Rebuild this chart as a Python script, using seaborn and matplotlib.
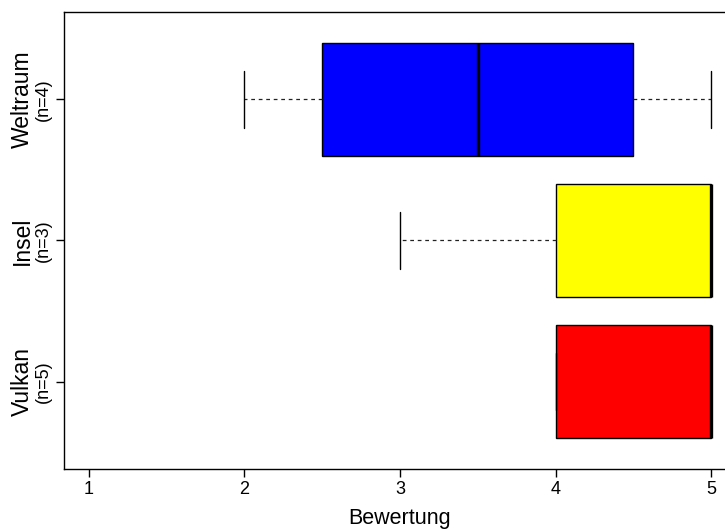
import numpy as np
import pandas as pd
import matplotlib
matplotlib.use("Agg")
import matplotlib.pyplot as plt
import matplotlib.transforms as mtransforms
import seaborn as sns

# ---- data ----
categories = ["Weltraum", "Insel", "Vulkan"]
ratings_weltraum = [2, 3, 4, 5]
ratings_insel = [3, 5, 5]
ratings_vulkan = [4, 4, 5, 5, 5]
box_colors = ["blue", "yellow", "red"]
x_ticks = [1, 2, 3, 4, 5]
x_label = "Bewertung"

raw = {"Weltraum": ratings_weltraum, "Insel": ratings_insel, "Vulkan": ratings_vulkan}


def fivenum(v):
    """Tukey five-number summary (as R's boxplot uses)."""
    x = np.sort(np.asarray(v, dtype=float))
    n = len(x)
    n4 = np.floor((n + 3) / 2) / 2
    d = np.array([1, n4, (n + 1) / 2, n + 1 - n4, n]) - 1
    return 0.5 * (x[np.floor(d).astype(int)] + x[np.ceil(d).astype(int)])


# build a table whose linear-interpolated quartiles equal Tukey hinges
rows = []
for c in categories:
    for s in fivenum(raw[c]):
        rows.append({"Kategorie": c, "Bewertung": s})
df = pd.DataFrame(rows)

sns.set_style("white")
plt.rcParams["font.family"] = ["Liberation Sans", "DejaVu Sans"]
plt.rcParams["text.color"] = "black"
plt.rcParams["axes.labelcolor"] = "black"
plt.rcParams["xtick.color"] = "black"
plt.rcParams["ytick.color"] = "black"

fig = plt.figure(figsize=(7.25, 5.31), dpi=100)
W, H = 725, 531
left, right, top, bottom = 64, 736, 12, 469
ax = fig.add_axes([left / W, 1 - bottom / H, (right - left) / W, (bottom - top) / H])

sns.boxplot(
    data=df, x="Bewertung", y="Kategorie", hue="Kategorie",
    order=categories, hue_order=categories, palette=box_colors,
    orient="h", width=0.8, saturation=1, legend=False, ax=ax,
    linecolor="black", linewidth=1.0, whis=1.5, showfliers=False,
    medianprops={"linewidth": 2.4, "color": "black", "solid_capstyle": "butt"},
    whiskerprops={"linestyle": (0, (3, 3)), "linewidth": 0.9, "color": "#222222"},
    capprops={"linewidth": 1.0, "color": "black"},
    boxprops={"edgecolor": "black", "linewidth": 1.0},
)

ax.set_xlim(0.84, 5.16)
ax.set_ylim(2.62, -0.62)
ax.set_xticks(x_ticks)
ax.set_xticklabels([str(t) for t in x_ticks], fontsize=13, color="black")
ax.set_yticks(range(len(categories)))
ax.set_yticklabels([])
ax.tick_params(axis="both", which="both", direction="out", length=6, width=1,
               color="black", left=True, bottom=True)
ax.tick_params(axis="x", pad=3)
ax.set_xlabel(x_label, fontsize=15.5, labelpad=7, color="black")
ax.set_ylabel("")
for sp in ["left", "top", "bottom", "right"]:
    ax.spines[sp].set_color("black")
    ax.spines[sp].set_linewidth(1.0)
    ax.spines[sp].set_visible(True)

trans = mtransforms.blended_transform_factory(fig.transFigure, ax.transData)
for i, c in enumerate(categories):
    ax.text(22 / W, i, c, transform=trans, rotation=90, ha="center", va="center",
            fontsize=16.5, color="black", clip_on=False)
    ax.text(43 / W, i, f"(n={len(raw[c])})", transform=trans, rotation=90,
            ha="center", va="center", fontsize=13, color="black", clip_on=False)

fig.savefig("out.png", dpi=100)
